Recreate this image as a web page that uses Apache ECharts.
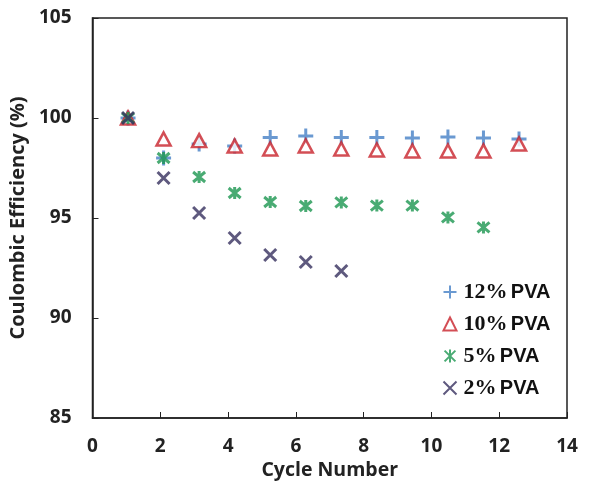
<!DOCTYPE html>
<html>
<head>
<meta charset="utf-8">
<script src="https://cdn.jsdelivr.net/npm/echarts@6/dist/echarts.min.js"></script>
<style>
html, body { margin: 0; padding: 0; background: #fff; }
#chart { width: 608px; height: 490px; }
</style>
</head>
<body>
<div id="chart"></div>
<script>
/* data */
var cycles = [1, 2, 3, 4, 5, 6, 7, 8, 9, 10, 11, 12];
var pva12 = [100, 98.0, 98.7, 98.6, 99.03, 99.1, 99.03, 99.03, 99.0, 99.05, 99.0, 98.95];
var pva10 = [100, 98.95, 98.87, 98.6, 98.45, 98.6, 98.45, 98.4, 98.35, 98.35, 98.35, 98.7];
var pva5 = [100, 98.0, 97.05, 96.25, 95.8, 95.6, 95.78, 95.62, 95.62, 95.03, 94.53];
var pva2 = [100, 97.0, 95.25, 94.0, 93.15, 92.8, 92.35];
var xTicks = [0, 2, 4, 6, 8, 10, 12, 14];
var yTicks = [85, 90, 95, 100, 105];

var names = ['12% PVA', '10% PVA', '5% PVA', '2% PVA'];

function pairs(ys) {
	var out = [];
	for (var i = 0; i < ys.length; i++) {
		out.push([cycles[i], ys[i]]);
	}
	return out;
}

var plusPath = 'path://M0,5L10,5M5,0L5,10';
var crossPath = 'path://M0,0L10,10M10,0L0,10';
var starPath = 'path://M0,0L10,10M10,0L0,10M5,-1L5,11';

var chart = echarts.init(document.getElementById('chart'));

var option = {
	animation: false,
	backgroundColor: '#fff',
	grid: {
		left: 92, right: 41, top: 18, bottom: 72,
		show: true,
		borderColor: '#222',
		borderWidth: 1.5
	},
	legend: {
		orient: 'vertical',
		left: 436,
		top: 276,
		itemGap: 10,
		itemWidth: 13,
		itemHeight: 13,
		data: names,
		formatter: function (n) {
			var p = n.split(' ');
			return '{n|' + p[0] + '} {p|' + p[1] + '}';
		},
		textStyle: {
			padding: [0, 0, 0, 2],
			rich: {
				n: { fontFamily: 'Liberation Serif', fontWeight: 'bold', fontSize: 22, color: '#111' },
				p: { fontFamily: 'Liberation Sans', fontWeight: 'bold', fontSize: 20, color: '#111' }
			}
		}
	},
	xAxis: [
		{
			type: 'value',
			min: 0, max: 14, interval: 2,
			name: 'Cycle Number',
			nameLocation: 'middle',
			nameGap: 42,
			nameTextStyle: { fontFamily: 'Open Sans', fontWeight: 'bold', fontSize: 19.5, color: '#222' },
			axisLine: { show: true, lineStyle: { color: '#222', width: 1.5 } },
			axisTick: { show: true, inside: true, length: 6, lineStyle: { color: '#222' } },
			axisLabel: { margin: 19, fontFamily: 'Open Sans', fontWeight: 'bold', fontSize: 19, color: '#222' },
			splitLine: { show: false }
		},
		{
			/* markers in the source sit slightly off the tick grid */
			type: 'value',
			min: 0, max: 13.35,
			show: false,
			splitLine: { show: false }
		}
	],
	yAxis: {
		type: 'value',
		min: 85, max: 105, interval: 5,
		name: 'Coulombic Efficiency (%)',
		nameLocation: 'middle',
		nameGap: 59,
		nameTextStyle: { fontFamily: 'Open Sans', fontWeight: 'bold', fontSize: 20, color: '#222' },
		axisLine: { show: true, lineStyle: { color: '#222', width: 1.5 } },
		axisTick: { show: true, inside: true, length: 6, lineStyle: { color: '#222' } },
		axisLabel: { margin: 21, fontFamily: 'Open Sans', fontWeight: 'bold', fontSize: 19, color: '#222' },
		splitLine: { show: false }
	},
	series: [
		{
			name: names[0], type: 'scatter', xAxisIndex: 1,
			symbol: plusPath, symbolSize: 15,
			itemStyle: { color: 'none', borderColor: '#4580c6', borderWidth: 3 },
			data: pairs(pva12)
		},
		{
			name: names[1], type: 'scatter', xAxisIndex: 1,
			symbol: 'triangle', symbolSize: [14, 13],
			itemStyle: { color: '#fff', borderColor: '#c8222a', borderWidth: 2.5 },
			data: pairs(pva10)
		},
		{
			name: names[2], type: 'scatter', xAxisIndex: 1,
			symbol: starPath, symbolSize: 12,
			itemStyle: { color: 'none', borderColor: '#1c9650', borderWidth: 3 },
			data: pairs(pva5)
		},
		{
			name: names[3], type: 'scatter', xAxisIndex: 1,
			symbol: crossPath, symbolSize: 12,
			itemStyle: { color: 'none', borderColor: '#362f5e', borderWidth: 3 },
			data: pairs(pva2)
		}
	]
};

chart.setOption(option);
</script>
</body>
</html>
